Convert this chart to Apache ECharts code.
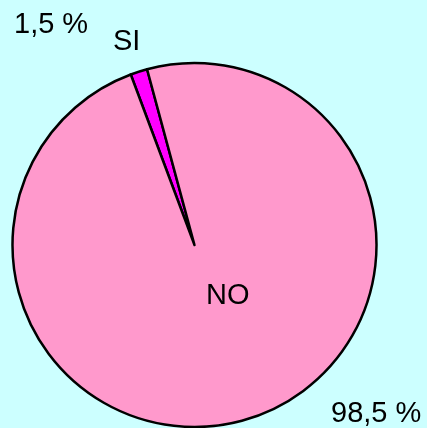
<!DOCTYPE html>
<html>
<head>
<meta charset="utf-8">
<style>
html,body{margin:0;padding:0;background:#CCFFFF;}
#chart{width:427px;height:428px;}
</style>
<script src="https://cdn.jsdelivr.net/npm/echarts@6/dist/echarts.min.js"></script>
</head>
<body>
<div id="chart"></div>
<script>
const categories = ['SI', 'NO'];
const values = [1.5, 98.5];
const percentLabels = ['1,5 %', '98,5 %'];
const colors = ['#FF00FF', '#FF99CC'];

const chart = echarts.init(document.getElementById('chart'), null, {renderer: 'canvas'});
const font = 'Liberation Sans, Arial, sans-serif';
const txt = (t, x, y) => ({
  type: 'text', left: x, top: y, z: 100,
  style: {text: t, font: '29px ' + font, fill: '#000'}
});
chart.setOption({
  backgroundColor: '#CCFFFF',
  animation: false,
  series: [{
    type: 'pie',
    center: [194.5, 245],
    radius: 182,
    startAngle: 110.5,
    clockwise: true,
    label: {show: false},
    labelLine: {show: false},
    emphasis: {disabled: true},
    itemStyle: {borderColor: '#000', borderWidth: 2.5},
    data: categories.map((c, i) => ({name: c, value: values[i], itemStyle: {color: colors[i]}}))
  }],
  graphic: [
    txt(percentLabels[0], 14, 10),
    txt(categories[0], 113, 27),
    txt(categories[1], 206, 281),
    txt(percentLabels[1], 331, 399)
  ]
});
</script>
</body>
</html>
